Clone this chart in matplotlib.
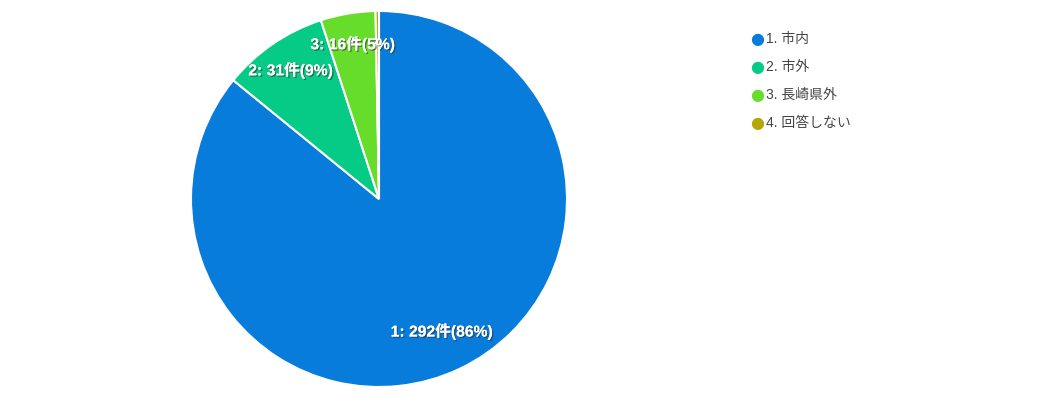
import matplotlib
matplotlib.use("Agg")
import matplotlib.pyplot as plt
import matplotlib.patheffects as pe
import numpy as np

plt.rcParams['font.family'] = ['Liberation Sans', 'Noto Sans CJK JP', 'DejaVu Sans']

# data
categories = ['1. 市内', '2. 市外', '3. 長崎県外', '4. 回答しない']
counts = [292, 31, 16, 1]
pct_labels = ['86%', '9%', '5%', '0%']
colors = ['#077CDA', '#05CB86', '#66DD2A', '#B5A70A']

fig = plt.figure(figsize=(10.4, 4.02), dpi=100)
ax = fig.add_axes([191 / 1040, 14 / 402, 376 / 1040, 376 / 402])

wedges, _ = ax.pie(counts, colors=colors, startangle=90, counterclock=False,
                   wedgeprops=dict(edgecolor='white', linewidth=1.5))
ax.set_xlim(-1, 1)
ax.set_ylim(-1, 1)
ax.set_aspect('equal')

# slice labels (skip the tiny one)
total = sum(counts)
dists = [0.78, 0.83, 0.835]
for i, w in enumerate(wedges):
    if counts[i] / total < 0.02:
        continue
    ang = np.deg2rad((w.theta1 + w.theta2) / 2)
    x, y = dists[i] * np.cos(ang), dists[i] * np.sin(ang)
    t = ax.text(x, y, f'{i + 1}: {counts[i]}件({pct_labels[i]})',
                ha='center', va='center', color='white', fontsize=11.3,
                fontweight='bold')
    t.set_path_effects([pe.withSimplePatchShadow(offset=(1, -1), shadow_rgbFace='#333333', alpha=0.6),
                        pe.Normal()])

# legend
ys = [38, 66, 94, 122]
for i, cat in enumerate(categories):
    fig.text(757 / 1040, 1 - (ys[i] + 1) / 402, '●', color=colors[i], fontsize=11.5,
             ha='center', va='center', family='DejaVu Sans')
    fig.text(766 / 1040, 1 - (ys[i] + 1) / 402, cat, color='#444444', fontsize=10,
             ha='left', va='center')

fig.savefig('out.png', dpi=100)
